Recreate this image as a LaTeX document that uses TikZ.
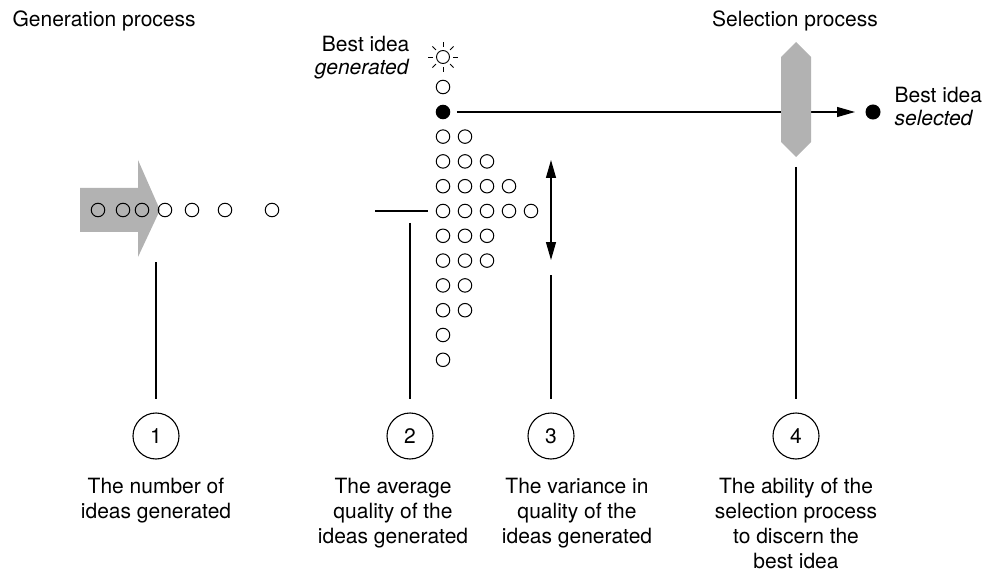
\documentclass[tikz,border=0pt]{standalone}
\usepackage{fontspec}
\setmainfont{TeX Gyre Heros}
\usetikzlibrary{arrows.meta}
\definecolor{procgray}{gray}{0.7}
\begin{document}
\begin{tikzpicture}[x=1pt,y=-1pt,line width=1.2pt,
  idea/.style = {circle,draw,line width=1pt,minimum size=13.5pt,inner sep=0pt,outer sep=0pt},
  bestidea/.style = {idea,fill=black},
  num/.style = {circle,draw,line width=1.1pt,minimum size=46pt,inner sep=0pt,font=\fontsize{21}{25}\selectfont},
  desc/.style = {inner sep=0pt,font=\fontsize{21}{25}\selectfont,align=center},
  pointer/.style = {-{Triangle[length=18pt,width=10pt]}}]
\useasboundingbox (0,0) rectangle (985,572);
% generation process
\node[desc,anchor=base west] (gentitle) at (12,27) {Generation process};
\fill[procgray] (80,188) -- (138,188) -- (138,160) -- (160,210) -- (138,257) -- (138,232) -- (80,232) -- cycle;
\foreach \x [count=\k] in {98,123,142,165,192,225,272}
    \node[idea] (g\k) at (\x,210) {};
% ideas ranked by quality
\node[idea] (i0) at (443,87) {};
\node[bestidea] (best) at (443,112) {};
\foreach \n [count=\r from 2] in {2,3,4,5,3,3,2,2,1,1}
    \foreach \c in {1,...,\n}
        \node[idea] (i\r-\c) at ({443+22*(\c-1)},{87+24.8*\r}) {};
\node[circle,draw,line width=0.9pt,minimum size=13pt,inner sep=0pt] (sun) at (443,57) {};
\foreach \a in {0,45,...,315}
    \draw[line width=0.9pt] (sun.center) ++(\a:10pt) -- ++(\a:5pt);
\node[desc,align=right,anchor=north east] (bestgen) at (410,36) {Best idea\\[-2pt]\textit{generated}};
% selection process
\node[desc,anchor=base] (seltitle) at (795,27) {Selection process};
\node[bestidea,minimum size=14pt] (chosen) at (873,112) {};
\draw[pointer,shorten <=7pt,shorten >=11pt] (best) -- (chosen);
\fill[procgray] (781,57) -- (796,42) -- (811,57) -- (811,142) -- (796,157) -- (781,142) -- cycle;
\node[desc,align=left,anchor=north west] (bestsel) at (894,87) {Best idea\\[-2pt]\textit{selected}};
% numbered factors
\foreach \k/\x in {1/156,2/410,3/551,4/796}
    \node[num] (n\k) at (\x,436) {\k};
\coordinate (c1) at (156,262);
\draw[shorten >=13pt] (c1) -- (n1);
\coordinate (avg) at (375,211);
\draw[shorten >=8pt] (avg) -- (i5-1);
\coordinate (c2) at (410,223);
\draw[shorten >=13pt] (c2) -- (n2);
\coordinate (vtop) at (551,160);
\coordinate (vbot) at (551,260);
\draw[{Triangle[length=18pt,width=10pt]}-{Triangle[length=18pt,width=10pt]}] (vtop) -- (vbot);
\draw[shorten <=15pt,shorten >=13pt] (vbot) -- (n3);
\coordinate (c4) at (796,167);
\draw[shorten >=13pt] (c4) -- (n4);
\node[desc,anchor=north] (d1) at (156,478) {The number of\\ideas generated};
\node[desc,anchor=north] (d2) at (393,478) {The average\\quality of the\\ideas generated};
\node[desc,anchor=north] (d3) at (577,478) {The variance in\\quality of the\\ideas generated};
\node[desc,anchor=north] (d4) at (796,478) {The ability of the\\selection process\\to discern the\\best idea};
\end{tikzpicture}
\end{document}
